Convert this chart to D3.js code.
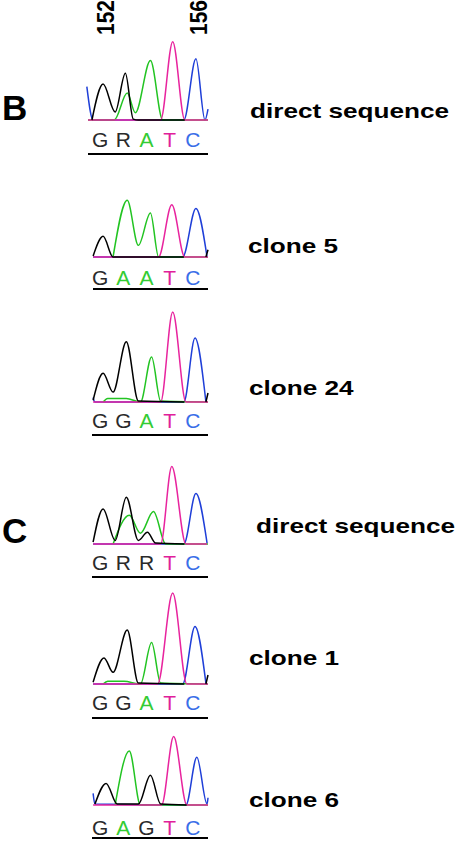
<!DOCTYPE html>
<html>
<head>
<meta charset="utf-8">
<script src="https://cdn.jsdelivr.net/npm/d3@7"></script>
<style>
  html, body { margin: 0; padding: 0; background: #fff; }
  #chart { width: 456px; height: 842px; }
  text { font-family: "Liberation Sans", Arial, sans-serif; }
</style>
</head>
<body>
<div id="chart"></div>
<script>
// base positions of the two numbered ticks
const tickPositions = [152, 156];
const tickLabels = ["152", "156"];

// called bases for each trace (5 bases, positions 152-156)
const calls = ["GRATC", "GAATC", "GGATC", "GRRTC", "GGATC", "GAGTC"];
const sampleNames = ["direct sequence", "clone 5", "clone 24", "direct sequence", "clone 1", "clone 6"];
const panelLetters = ["B", "C"];

// trace signal, [base position, intensity]; null = trace not drawn there
const blackTraces = [
  [[151.52,0],[152.00,40],[152.52,9],[152.96,52],[153.30,1],[153.52,0],[155.52,0]],
  [[151.57,1],[152.00,23],[152.43,0],[155.48,0],[156.0,null],[156.43,0],[156.52,8]],
  [[151.57,2],[152.00,32],[152.43,11],[153.00,67],[153.52,1],[155.50,0],[156.0,null],[156.43,0],[156.52,10]],
  [[151.57,2],[152.00,39],[152.52,4],[153.00,52],[153.52,4],[153.91,13],[154.26,1],[155.50,0]],
  [[151.57,2],[152.04,29],[152.43,13],[153.04,60],[153.52,1],[155.50,0],[156.0,null],[156.43,0],[156.52,10]],
  [[151.65,1],[152.13,24],[152.61,1],[153.52,1],[154.04,33],[154.48,1],[155.60,0]]
];
const greenTraces = [
  [[151.35,0],[152.48,0],[153.04,30],[153.39,8],[154.04,66],[154.57,0],[156.52,0]],
  [[152.43,0],[153.04,63],[153.52,13],[154.04,49],[154.39,0],[156.52,0]],
  [[152.00,0],[152.20,4],[153.00,4],[153.61,0],[154.09,50],[154.48,1],[156.52,0]],
  [[152.43,0],[153.13,32],[153.61,12],[154.17,36],[154.70,0],[156.52,0]],
  [[152.00,0],[152.20,3],[152.90,3],[153.61,0],[154.09,46],[154.48,1],[156.52,0]],
  [[152.52,0],[153.13,60],[153.61,0],[156.52,0]]
];
const pinkTraces = [
  [[151.35,0],[154.48,0],[155.00,87],[155.52,0],[156.52,0]],
  [[151.57,0],[154.39,0],[154.96,58],[155.52,0],[156.52,0]],
  [[151.57,0],[154.48,0],[155.00,100],[155.57,0],[156.52,0]],
  [[151.57,0],[154.48,0],[154.96,86],[155.57,0],[156.48,0]],
  [[151.57,0],[154.35,0],[155.00,101],[155.61,0],[156.52,0]],
  [[151.57,0],[154.52,0],[155.04,76],[155.61,0],[156.52,0]]
];
const blueTraces = [
  [[151.30,37],[151.57,0],[155.48,0],[156.00,68],[156.39,0],[156.52,12]],
  [[151.57,0],[155.43,0],[156.00,54],[156.48,0]],
  [[151.57,5],[151.65,0],[155.48,0],[155.96,71],[156.43,0]],
  [[151.57,0],[155.48,0],[156.00,56],[156.48,1]],
  [[151.57,0],[155.43,0],[155.96,64],[156.43,1]],
  [[151.57,13],[151.65,1],[155.57,0],[156.04,53],[156.48,1],[156.52,8]]
];

document.addEventListener("DOMContentLoaded", () => {
  const width = 456, height = 842;
  const svg = d3.select("#chart").append("svg")
    .attr("width", width)
    .attr("height", height);

  // layout of each panel (pixels)
  const baseY = [120, 257, 402, 544, 684, 805];
  const letterY = [147, 285, 428, 570, 710, 835];
  const ruleY = [154, 289, 435, 577, 718, 838];
  const ruleX0 = [88, 93, 92, 92, 92, 92];
  const labelPos = [[250, 118], [248, 253], [249, 395], [256, 533], [249, 665], [249, 807]];
  const panelLetterPos = [[2, 120], [2, 543]];

  const colors = { black: "#000", green: "#22c422", pink: "#e8249e", blue: "#1f3fd8" };
  const baseColor = { G: "#2a2a2a", R: "#2a2a2a", A: "#33cc33", T: "#e0209a", C: "#3a6ee8" };

  const x = d3.scaleLinear().domain([151.35, 156.52]).range([88, 208]);

  calls.forEach((seq, i) => {
    const y = d3.scaleLinear().domain([0, 100]).range([baseY[i], baseY[i] - 90]);
    const line = d3.line()
      .defined(d => d[1] !== null)
      .curve(d3.curveMonotoneX)
      .x(d => x(d[0]))
      .y(d => y(d[1]));

    const g = svg.append("g").attr("class", "trace");
    const order = [
      [blueTraces[i], colors.blue],
      [greenTraces[i], colors.green],
      [pinkTraces[i], colors.pink],
      [blackTraces[i], colors.black]
    ];
    order.forEach(([pts, c]) => {
      g.append("path")
        .attr("d", line(pts))
        .attr("fill", "none")
        .attr("stroke", c)
        .attr("stroke-width", 1.5);
    });

    // base calls
    g.selectAll("text.base")
      .data(seq.split(""))
      .enter()
      .append("text")
      .attr("class", "base")
      .attr("x", (d, j) => x(152 + j) - 3)
      .attr("y", letterY[i])
      .attr("text-anchor", "middle")
      .attr("font-size", 21)
      .attr("fill", d => baseColor[d])
      .text(d => d);

    g.append("line")
      .attr("x1", ruleX0[i]).attr("x2", 208)
      .attr("y1", ruleY[i]).attr("y2", ruleY[i])
      .attr("stroke", "#000")
      .attr("stroke-width", 2);

    // sample label, drawn stretched a little wider like the original
    const lab = svg.append("text")
      .attr("x", labelPos[i][0])
      .attr("y", labelPos[i][1])
      .attr("font-size", 21)
      .attr("font-weight", "bold")
      .attr("fill", "#000")
      .text(sampleNames[i]);
    const w = lab.node().getComputedTextLength();
    lab.attr("textLength", w * 1.245).attr("lengthAdjust", "spacingAndGlyphs");
  });

  // position numbers, rotated
  tickPositions.forEach((p, k) => {
    svg.append("text")
      .attr("transform", `translate(${x(p) + 11},35) scale(1.15,1) rotate(-90)`)
      .attr("font-size", 21)
      .attr("font-weight", "bold")
      .text(tickLabels[k]);
  });

  panelLetters.forEach((t, k) => {
    svg.append("text")
      .attr("x", panelLetterPos[k][0])
      .attr("y", panelLetterPos[k][1])
      .attr("font-size", 35)
      .attr("font-weight", "bold")
      .text(t);
  });
});
</script>
</body>
</html>
